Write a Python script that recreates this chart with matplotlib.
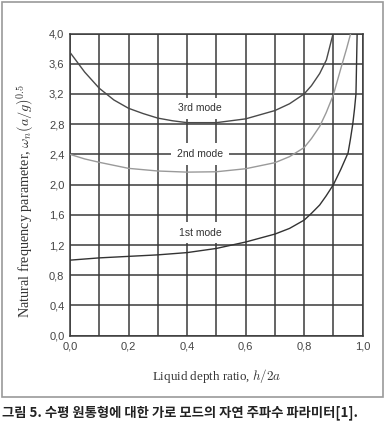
import matplotlib
matplotlib.use("Agg")
import matplotlib.pyplot as plt
from matplotlib.patches import Rectangle

# values
x_ticks = [0.0, 0.2, 0.4, 0.6, 0.8, 1.0]
y_ticks = [0.0, 0.4, 0.8, 1.2, 1.6, 2.0, 2.4, 2.8, 3.2, 3.6, 4.0]

mode3_x = [0, 0.05, 0.1, 0.15, 0.2, 0.25, 0.3, 0.35, 0.4, 0.5, 0.6, 0.7, 0.75, 0.8, 0.825, 0.853, 0.876, 0.897]
mode3_y = [3.75, 3.49, 3.275, 3.12, 3.01, 2.94, 2.88, 2.845, 2.82, 2.82, 2.87, 2.98, 3.07, 3.2, 3.31, 3.47, 3.65, 3.97]

mode2_x = [0, 0.05, 0.1, 0.2, 0.3, 0.4, 0.5, 0.6, 0.7, 0.75, 0.8, 0.825, 0.853, 0.875, 0.9, 0.927, 0.945, 0.959]
mode2_y = [2.40, 2.34, 2.295, 2.215, 2.18, 2.165, 2.17, 2.21, 2.29, 2.37, 2.49, 2.61, 2.77, 2.95, 3.19, 3.56, 3.8, 4.0]

mode1_x = [0, 0.1, 0.2, 0.3, 0.4, 0.5, 0.6, 0.7, 0.75, 0.8, 0.825, 0.853, 0.875, 0.9, 0.925, 0.95,
           0.958, 0.966, 0.972, 0.977, 0.979, 0.981]
mode1_y = [1.0, 1.03, 1.05, 1.07, 1.10, 1.155, 1.24, 1.345, 1.42, 1.53, 1.62, 1.73, 1.85, 2.0, 2.2, 2.42,
           2.6, 2.8, 3.0, 3.2, 3.6, 4.0]

labels = ["1st mode", "2nd mode", "3rd mode"]
label_pos = [(0.444, 1.36), (0.444, 2.405), (0.444, 3.01)]

caption = "그림 5. 수평 원통형에 대한 가로 모드의 자연 주파수 파라미터[1]."

plt.rcParams['mathtext.fontset'] = 'cm'
tick_font = ['Liberation Sans Narrow', 'Liberation Sans', 'DejaVu Sans']

fig = plt.figure(figsize=(3.85, 4.3), dpi=100)
ax = fig.add_axes([70/385, 1 - 335.7/430, (362.7 - 70)/385, (335.7 - 33.5)/430])

# outer gray frame
fig.patches.append(Rectangle((2/385, 1 - 397/430), 381/385, 395/430, transform=fig.transFigure,
                             fill=False, edgecolor='#9a9a9a', linewidth=1.2))

ax.set_xlim(0, 1.0)
ax.set_ylim(0, 4.0)
xs_all = [i/10 for i in range(11)]
ax.set_xticks(xs_all)
ax.set_yticks(y_ticks)
ax.set_xticklabels([("%.1f" % v).replace('.', ',') if any(abs(v - t) < 1e-9 for t in x_ticks) else "" for v in xs_all],
                   family=tick_font, fontsize=8, color='#444444')
ax.set_yticklabels([("%.1f" % v).replace('.', ',') for v in y_ticks],
                   family=tick_font, fontsize=8, color='#444444')
ax.tick_params(length=0, pad=4)
ax.grid(True, color='#3a3a3a', linewidth=1.1)
ax.set_axisbelow(True)
for s in ax.spines.values():
    s.set_color('#3a3a3a')
    s.set_linewidth(1.1)

ax.plot(mode3_x, mode3_y, color='#4a4a4a', linewidth=1.0, zorder=3)
ax.plot(mode2_x, mode2_y, color='#9a9a9a', linewidth=1.0, zorder=3)
ax.plot(mode1_x, mode1_y, color='#333333', linewidth=1.0, zorder=3)

for txt, (lx, ly) in zip(labels, label_pos):
    ax.text(lx, ly, txt, ha='center', va='center', fontsize=7.5, family=tick_font, color='#333333',
            bbox=dict(facecolor='white', edgecolor='none', pad=4), zorder=4)

fig.text(216.5/385, 1 - 375.7/430, "Liquid depth ratio, $h/2a$", family='Liberation Serif',
         fontsize=9.4, color='#333333', ha='center', va='center')
fig.text(25/385, 1 - 201/430, "Natural frequency parameter, $\\omega_n(a/g)^{0.5}$", family='Liberation Serif',
         fontsize=10.3, color='#333333', ha='center', va='center', rotation=90)

fig.text(2/385, 1 - 413/430, caption, family=['Noto Sans CJK KR', 'DejaVu Sans'], fontweight='bold',
         fontsize=9.6, va='center', ha='left', color='#222222')

fig.savefig("out.png", dpi=100)
